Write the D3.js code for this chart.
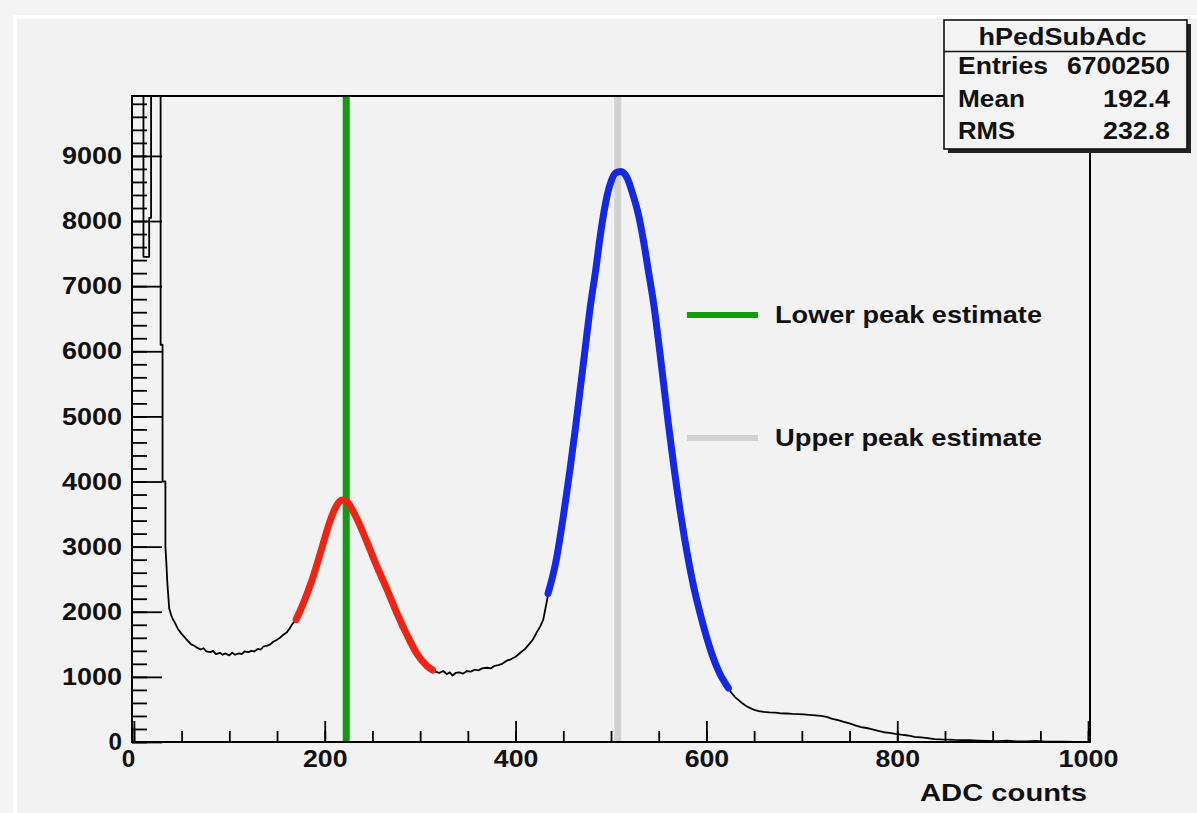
<!DOCTYPE html>
<html>
<head>
<meta charset="utf-8">
<script src="https://cdn.jsdelivr.net/npm/d3@7"></script>
<style>
  html, body { margin: 0; padding: 0; background: #f4f4f4; }
  svg { display: block; }
  text { font-family: "Liberation Sans", Arial, Helvetica, sans-serif; font-weight: bold; fill: #111; }
</style>
</head>
<body>
<svg id="chart" width="1197" height="813"></svg>
<script>
// ---------------- DATA ----------------
// Histogram (black) : ADC value and counts (values above the frame are off-scale)
const histAdc = [0, 10, 10, 16, 16, 18, 18, 28, 28, 30, 30, 33, 33,
  34, 35, 36, 37, 39, 41, 43, 46, 50, 53, 56, 60, 63, 66, 70, 73, 76, 80, 83, 86, 90, 93, 96,
  100, 103, 106, 110, 113, 116, 120, 123, 126, 130, 133, 136, 140, 143, 146, 150, 153, 156,
  160, 163, 166, 170, 177, 187, 197, 205, 212, 218, 223, 233, 244, 254, 265, 275, 286, 296,
  307, 313, 316, 320, 324, 328, 331, 334, 337, 341, 345, 349, 353, 357, 361, 365, 370, 374,
  378, 382, 386, 391, 395, 400, 405, 410, 414, 418, 422, 426, 429, 431, 433, 434, 442, 450,
  457, 463, 468, 473, 478, 484, 489, 494, 499, 505, 510, 517, 522, 529, 534, 539, 545, 550,
  555, 560, 566, 573, 580, 587, 594, 600, 606, 613, 623, 626, 630, 634, 638, 642, 646, 650,
  655, 660, 666, 672, 678, 684, 690, 696, 702, 708, 714, 720, 726, 732, 738, 744, 750, 756,
  762, 768, 774, 780, 786, 792, 798, 804, 811, 818, 825, 832, 839, 846, 853, 860, 868, 875,
  885, 895, 905, 915, 925, 935, 945, 955, 965, 975, 985, 1000];
const histCounts = [12000, 12000, 7450, 7450, 8050, 8050, 12000, 12000, 6100, 6100, 4000, 4000, 3000,
  2750, 2450, 2250, 2050, 1950, 1880, 1830, 1740, 1660, 1610, 1560, 1500, 1480, 1450, 1420, 1440, 1390, 1380, 1400, 1350, 1370, 1340, 1360,
  1330, 1370, 1340, 1360, 1350, 1390, 1380, 1400, 1390, 1430, 1420, 1470, 1480, 1500, 1540, 1570, 1600, 1640,
  1680, 1740, 1810, 1880, 2110, 2500, 2980, 3370, 3620, 3716, 3690, 3450, 3080, 2720, 2350, 2000, 1650, 1370,
  1170, 1105, 1080, 1060, 1090, 1040, 1070, 1020, 1060, 1070, 1050, 1090, 1080, 1110, 1100, 1130, 1140, 1130,
  1170, 1180, 1200, 1250, 1270, 1310, 1370, 1430, 1500, 1570, 1680, 1780, 1880, 2030, 2180, 2260, 2750, 3460,
  4180, 4850, 5450, 6050, 6650, 7250, 7800, 8250, 8560, 8740, 8760, 8660, 8450, 8080, 7700, 7250, 6700, 6130,
  5520, 4900, 4220, 3500, 2880, 2360, 1940, 1620, 1340, 1080, 830, 760, 690, 640, 590, 550, 520, 495,
  475, 462, 455, 450, 440, 438, 432, 428, 425, 418, 410, 400, 385, 355, 335, 310, 285, 255,
  230, 215, 195, 170, 150, 140, 125, 112, 100, 80, 70, 58, 45, 40, 38, 33, 30, 28,
  22, 18, 12, 20, 10, 8, 15, 6, 5, 4, 3, 2];

// Lower-peak fit (red)
const lowFitAdc = [170, 177, 187, 197, 205, 212, 218, 223, 233, 244, 254, 265, 275, 286, 296, 307, 313];
const lowFitCounts = [1880, 2110, 2500, 2980, 3370, 3620, 3716, 3690, 3450, 3080, 2720, 2350, 2000, 1650, 1370, 1170, 1105];

// Upper-peak fit (blue)
const highFitAdc = [434, 442, 450, 457, 463, 468, 473, 478, 484, 489, 494, 499, 505, 510, 517, 522, 529, 534,
  539, 545, 550, 555, 560, 566, 573, 580, 587, 594, 600, 606, 613, 623];
const highFitCounts = [2280, 2750, 3460, 4180, 4850, 5450, 6050, 6650, 7250, 7800, 8250, 8560, 8740, 8760, 8660, 8450, 8080, 7700,
  7250, 6700, 6130, 5520, 4900, 4220, 3500, 2880, 2360, 1940, 1620, 1340, 1080, 830];

// Peak estimates (vertical lines) and legend
const peakNames = ["Lower peak estimate", "Upper peak estimate"];
const peakAdc = [222.5, 507];
const peakColors = ["#129a12", "#d2d2d2"];

// Axis ticks
const xMajorTicks = [0, 200, 400, 600, 800, 1000];
const xMinorTicks = d3.range(0, 1001, 50);
const yMajorTicks = [0, 1000, 2000, 3000, 4000, 5000, 6000, 7000, 8000, 9000];
const yMinorTicks = d3.range(0, 9901, 200);
const xTitle = "ADC counts";

// Stats box
const statsTitle = "hPedSubAdc";
const statsLabels = ["Entries", "Mean", "RMS"];
const statsValues = ["6700250", "192.4", "232.8"];

// ---------------- LAYOUT ----------------
const svg = d3.select("#chart");
const L = 132, R = 1090, T = 96, B = 742;
const x = d3.scaleLinear().domain([-2, 1002]).range([L, R]);
const y = d3.scaleLinear().domain([0, 9920]).range([B, T]);
const digitW = n => n * 15.5 - 2;

// canvas background + white pad border
svg.append("rect").attr("width", 1197).attr("height", 813).attr("fill", "#f4f4f4");
svg.append("rect").attr("x", 15).attr("y", 17).attr("width", 1250).attr("height", 850)
  .attr("fill", "#f2f2f2").attr("stroke", "#ffffff").attr("stroke-width", 3.5);

svg.append("clipPath").attr("id", "plotclip").append("rect")
  .attr("x", L).attr("y", T).attr("width", R - L).attr("height", B - T);

const plot = svg.append("g").attr("clip-path", "url(#plotclip)");

// histogram
plot.append("path")
  .datum(histAdc.map((a, i) => [a, histCounts[i]]))
  .attr("fill", "none").attr("stroke", "#000").attr("stroke-width", 1.8)
  .attr("stroke-linejoin", "round")
  .attr("d", d3.line().x(d => x(d[0])).y(d => y(d[1])));

// peak estimate lines
plot.selectAll("line.peak").data(peakAdc).join("line")
  .attr("class", "peak")
  .attr("x1", d => x(d)).attr("x2", d => x(d))
  .attr("y1", T).attr("y2", B)
  .attr("stroke", (d, i) => peakColors[i]).attr("stroke-width", 7);

// fits
const fitLine = d3.line().x(d => x(d[0])).y(d => y(d[1])).curve(d3.curveMonotoneX);
plot.append("path")
  .datum(lowFitAdc.map((a, i) => [a, lowFitCounts[i]]))
  .attr("fill", "none").attr("stroke", "#f02414").attr("stroke-width", 7)
  .attr("stroke-linecap", "round").attr("stroke-linejoin", "round")
  .attr("d", fitLine);
plot.append("path")
  .datum(highFitAdc.map((a, i) => [a, highFitCounts[i]]))
  .attr("fill", "none").attr("stroke", "#1428e6").attr("stroke-width", 7)
  .attr("stroke-linecap", "round").attr("stroke-linejoin", "round")
  .attr("d", fitLine);

// axes (ticks inward, like ROOT)
const gx = svg.append("g").attr("transform", `translate(0,${B})`);
gx.call(d3.axisBottom(x).tickValues(xMinorTicks).tickSize(-11).tickFormat(""));
gx.append("g").call(d3.axisBottom(x).tickValues(xMajorTicks).tickSize(-21).tickPadding(8).tickFormat(d3.format("d")));
const gy = svg.append("g").attr("transform", `translate(${L},0)`);
gy.call(d3.axisLeft(y).tickValues(yMinorTicks).tickSize(-15).tickFormat(""));
gy.append("g").call(d3.axisLeft(y).tickValues(yMajorTicks).tickSize(-30).tickPadding(10).tickFormat(d3.format("d")));

svg.selectAll(".domain").remove();
svg.selectAll(".tick line").attr("stroke", "#000").attr("stroke-width", 1.8);
svg.selectAll(".tick text")
  .attr("font-size", 24)
  .attr("font-family", "Liberation Sans, Arial, sans-serif")
  .attr("font-weight", "bold")
  .attr("fill", "#111")
  .attr("lengthAdjust", "spacingAndGlyphs")
  .attr("textLength", function () { return digitW(this.textContent.length); });
gx.selectAll(".tick text").filter(d => d === 0).attr("dx", -6);

// frame
svg.append("rect").attr("x", L).attr("y", T).attr("width", R - L).attr("height", B - T)
  .attr("fill", "none").attr("stroke", "#000").attr("stroke-width", 2);

// x title
svg.append("text").attr("x", 1087).attr("y", 801).attr("text-anchor", "end")
  .attr("font-size", 24).attr("textLength", 167).attr("lengthAdjust", "spacingAndGlyphs")
  .text(xTitle);

// legend
const leg = svg.append("g");
peakNames.forEach((name, i) => {
  const ly = 315 + i * 123;
  leg.append("line").attr("x1", 687).attr("x2", 758).attr("y1", ly).attr("y2", ly)
    .attr("stroke", peakColors[i]).attr("stroke-width", 6);
  leg.append("text").attr("x", 775).attr("y", ly + 7.5)
    .attr("font-size", 24).attr("textLength", 267).attr("lengthAdjust", "spacingAndGlyphs")
    .text(name);
});

// stats box
const sb = { x: 944, y: 20, w: 243, h: 129 };
svg.append("rect").attr("x", sb.x + 4).attr("y", sb.y + 4).attr("width", sb.w).attr("height", sb.h)
  .attr("fill", "#222");
svg.append("rect").attr("x", sb.x).attr("y", sb.y).attr("width", sb.w).attr("height", sb.h)
  .attr("fill", "#f3f3f3").attr("stroke", "#111").attr("stroke-width", 1.6);
svg.append("line").attr("x1", sb.x).attr("x2", sb.x + sb.w).attr("y1", 51.5).attr("y2", 51.5)
  .attr("stroke", "#111").attr("stroke-width", 1.6);
svg.append("text").attr("x", 1062.5).attr("y", 45).attr("text-anchor", "middle")
  .attr("font-size", 23).attr("textLength", 168).attr("lengthAdjust", "spacingAndGlyphs")
  .text(statsTitle);
const labelW = [90, 67, 57];
const valueW = [103, 67, 67];
statsLabels.forEach((lab, i) => {
  const by = 74 + i * 32.5;
  svg.append("text").attr("x", 958).attr("y", by)
    .attr("font-size", 23).attr("textLength", labelW[i]).attr("lengthAdjust", "spacingAndGlyphs")
    .text(lab);
  svg.append("text").attr("x", 1170).attr("y", by).attr("text-anchor", "end")
    .attr("font-size", 23).attr("textLength", valueW[i]).attr("lengthAdjust", "spacingAndGlyphs")
    .text(statsValues[i]);
});
</script>
</body>
</html>
